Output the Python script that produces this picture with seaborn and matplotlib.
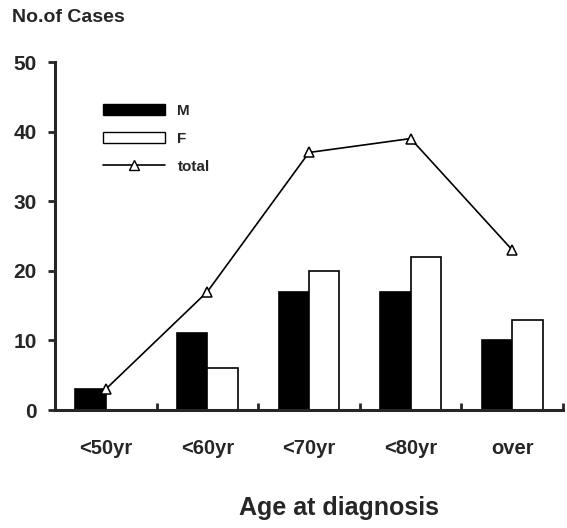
import pandas as pd
import numpy as np
import seaborn as sns
import matplotlib.pyplot as plt
from matplotlib.patches import Patch
from matplotlib.lines import Line2D

# data
ages = ['<50yr', '<60yr', '<70yr', '<80yr', 'over']
male = [3, 11, 17, 17, 10]
female = [0, 6, 20, 22, 13]
total = [3, 17, 37, 39, 23]

sns.set_style('white')
plt.rcParams['font.family'] = ['Liberation Sans', 'DejaVu Sans']

df = pd.DataFrame({
    'age': ages * 2,
    'cases': male + female,
    'sex': ['M'] * len(ages) + ['F'] * len(ages),
})

fig = plt.figure(figsize=(5.67, 5.28), dpi=100)
ax = fig.add_axes([55 / 567, 1 - 410 / 528, 508 / 567, 348 / 528])

sns.barplot(data=df, x='age', y='cases', hue='sex', order=ages,
            hue_order=['M', 'F'], palette={'M': 'black', 'F': 'white'},
            edgecolor='black', linewidth=1.2, width=0.6, gap=0,
            legend=False, ax=ax)
sns.pointplot(x=ages, y=total, color='black', markers='^',
              markerfacecolor='white', markeredgecolor='black',
              markersize=7, markeredgewidth=1.1, linewidth=1.2, ax=ax)

ax.set_xlim(-0.5, 4.5)
ax.set_ylim(0, 50)
ax.set_yticks([0, 10, 20, 30, 40, 50])
sns.despine(ax=ax)
for s in ['left', 'bottom']:
    ax.spines[s].set_linewidth(2.2)
ax.set_xlabel('')
ax.set_ylabel('')

ax.tick_params(axis='y', direction='out', length=5, width=2, pad=8,
               labelsize=15, left=True)
ax.tick_params(axis='x', which='major', length=0, pad=21, labelsize=14.5)
ax.set_xticks(np.arange(0.5, 5, 1), minor=True)
ax.tick_params(axis='x', which='minor', direction='in', length=5, width=2,
               bottom=True)
for lbl in ax.get_yticklabels() + ax.get_xticklabels():
    lbl.set_fontweight('bold')

handles = [Patch(facecolor='black', edgecolor='black', label='M'),
           Patch(facecolor='white', edgecolor='black', label='F'),
           Line2D([], [], color='black', lw=1.2, marker='^', markersize=7,
                  markerfacecolor='white', label='total')]
fig.legend(handles=handles, loc='upper left',
           bbox_to_anchor=(95 / 567, 1 - 96 / 528), frameon=False,
           prop={'weight': 'bold', 'size': 11},
           handlelength=4.1, handleheight=0.8, labelspacing=0.9,
           handletextpad=0.8, borderpad=0)

fig.text(12 / 567, 1 - 18 / 528, 'No.of Cases', fontsize=14,
         fontweight='bold', va='center', ha='left')
fig.text(339 / 567, 1 - 508 / 528, 'Age at diagnosis', fontsize=18,
         fontweight='bold', va='center', ha='center')

fig.savefig('out.png', dpi=100)
